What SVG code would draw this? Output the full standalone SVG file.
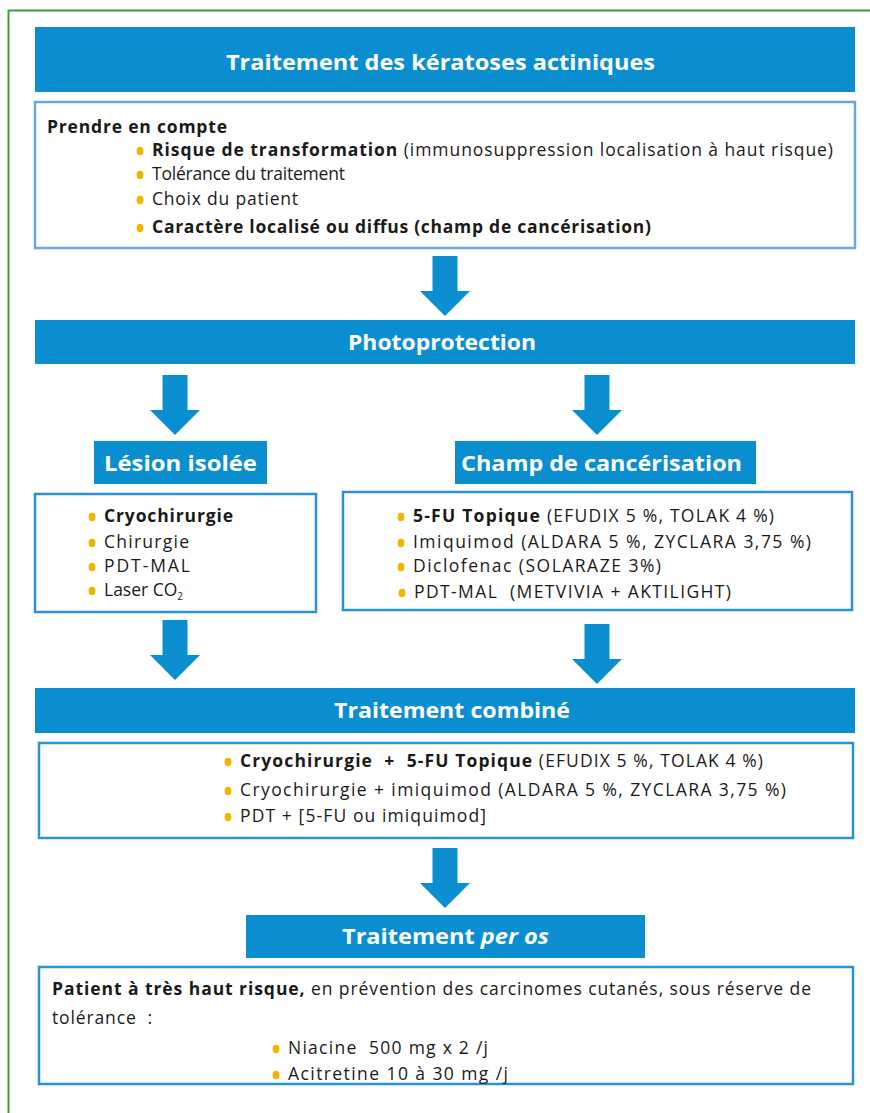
<svg xmlns="http://www.w3.org/2000/svg" width="870" height="1113" viewBox="0 0 870 1113">
<style>
.bar{fill:#0a8ecf}
.box{fill:#fff;stroke:#2b93d3;stroke-width:2.5}
.box0{fill:#fff;stroke:#6aa6dc;stroke-width:2.5}
.hd{font-family:"Open Sans","DejaVu Sans",sans-serif;font-weight:bold;font-size:22px;fill:#fff;text-anchor:middle}
.t{font-family:"Open Sans","DejaVu Sans",sans-serif;font-size:17.5px;fill:#1a1a1a;white-space:pre}
.b{font-weight:bold}
.dot{fill:#f5b400}
.arr{fill:#0a8ecf}
</style>
<defs>
<polygon id="arrow" points="-12.5,0 12.5,0 12.5,35 25,35 0,60 -25,35 -12.5,35"/>
<ellipse id="d" rx="3.4" ry="4.2"/>
</defs>
<rect width="870" height="1113" fill="#fff"/>
<path d="M8.5,1113 V10.5 H870" fill="none" stroke="#3a9b3f" stroke-width="2"/>

<g id="connectors">
<use href="#arrow" class="arr" x="445" y="256"/>
<use href="#arrow" class="arr" x="175" y="375"/>
<use href="#arrow" class="arr" x="597" y="375"/>
<use href="#arrow" class="arr" x="175" y="620"/>
<use href="#arrow" class="arr" x="597" y="624"/>
<use href="#arrow" class="arr" x="445" y="848"/>
</g>

<g id="title">
<rect class="bar" x="35" y="27" width="820" height="65"/>
<text class="hd" x="440.5" y="70" textLength="429" lengthAdjust="spacingAndGlyphs">Traitement des kératoses actiniques</text>
</g>

<g id="prendre">
<rect class="box0" x="35" y="102" width="820" height="146"/>
<text class="t b" x="47" y="133" textLength="180">Prendre en compte</text>
<use href="#d" class="dot" x="140" y="151"/>
<text class="t" x="152" y="156" textLength="681"><tspan class="b">Risque de transformation</tspan> (immunosuppression localisation à haut risque)</text>
<use href="#d" class="dot" x="140" y="175"/>
<text class="t" x="152" y="180" textLength="193">Tolérance du traitement</text>
<use href="#d" class="dot" x="140" y="200"/>
<text class="t" x="152" y="205" textLength="146">Choix du patient</text>
<use href="#d" class="dot" x="140" y="228"/>
<text class="t b" x="152" y="233" textLength="499">Caractère localisé ou diffus (champ de cancérisation)</text>
</g>

<g id="photoprotection">
<rect class="bar" x="35" y="320" width="820" height="44"/>
<text class="hd" x="442" y="350" textLength="188" lengthAdjust="spacingAndGlyphs">Photoprotection</text>
</g>

<g id="lesion">
<rect class="bar" x="94" y="441" width="173" height="43"/>
<text class="hd" x="180.5" y="471" textLength="153" lengthAdjust="spacingAndGlyphs">Lésion isolée</text>
</g>

<g id="champ">
<rect class="bar" x="455" y="441" width="301" height="43"/>
<text class="hd" x="601.5" y="471" textLength="281" lengthAdjust="spacingAndGlyphs">Champ de cancérisation</text>
</g>

<g id="lesion-list">
<rect class="box" x="35" y="494" width="281" height="118"/>
<use href="#d" class="dot" x="92" y="517"/>
<text class="t b" x="104" y="522" textLength="129">Cryochirurgie</text>
<use href="#d" class="dot" x="92" y="543"/>
<text class="t" x="104" y="548" textLength="85">Chirurgie</text>
<use href="#d" class="dot" x="92" y="567"/>
<text class="t" x="104" y="572" textLength="86">PDT-MAL</text>
<use href="#d" class="dot" x="92" y="591"/>
<text class="t" x="104" y="596">Laser CO<tspan font-size="10" dy="4">2</tspan></text>
</g>

<g id="champ-list">
<rect class="box" x="343" y="492" width="509" height="118"/>
<use href="#d" class="dot" x="401" y="517"/>
<text class="t" x="413" y="522" textLength="361"><tspan class="b">5-FU Topique</tspan> (EFUDIX 5 %, TOLAK 4 %)</text>
<use href="#d" class="dot" x="401" y="543"/>
<text class="t" x="413" y="548" textLength="398">Imiquimod (ALDARA 5 %, ZYCLARA 3,75 %)</text>
<use href="#d" class="dot" x="401" y="567"/>
<text class="t" x="413" y="572" textLength="248">Diclofenac (SOLARAZE 3%)</text>
<use href="#d" class="dot" x="402" y="593"/>
<text class="t" x="414" y="598" textLength="317">PDT-MAL  (METVIVIA + AKTILIGHT)</text>
</g>

<g id="combine">
<rect class="bar" x="35" y="688" width="820" height="45"/>
<text class="hd" x="452" y="718" textLength="236" lengthAdjust="spacingAndGlyphs">Traitement combiné</text>
</g>

<g id="combine-list">
<rect class="box" x="39" y="743" width="814" height="95"/>
<use href="#d" class="dot" x="228" y="762"/>
<text class="t" x="240" y="767" textLength="523"><tspan class="b">Cryochirurgie  +  5-FU Topique</tspan> (EFUDIX 5 %, TOLAK 4 %)</text>
<use href="#d" class="dot" x="228" y="791"/>
<text class="t" x="240" y="796" textLength="546">Cryochirurgie + imiquimod (ALDARA 5 %, ZYCLARA 3,75 %)</text>
<use href="#d" class="dot" x="228" y="817"/>
<text class="t" x="240" y="822" textLength="246">PDT + [5-FU ou imiquimod]</text>
</g>

<g id="peros">
<rect class="bar" x="246" y="915" width="399" height="43"/>
<text class="hd" x="445.5" y="944" textLength="207" lengthAdjust="spacingAndGlyphs">Traitement <tspan font-style="italic">per os</tspan></text>
</g>

<g id="patient">
<rect class="box" x="39" y="967" width="814" height="117"/>
<text class="t" x="52" y="995" textLength="759"><tspan class="b">Patient à très haut risque,</tspan> en prévention des carcinomes cutanés, sous réserve de</text>
<text class="t" x="52" y="1024" textLength="100">tolérance  :</text>
<use href="#d" class="dot" x="276" y="1049"/>
<text class="t" x="288" y="1054" textLength="200">Niacine  500 mg x 2 /j</text>
<use href="#d" class="dot" x="276" y="1075"/>
<text class="t" x="288" y="1080" textLength="220">Acitretine 10 à 30 mg /j</text>
</g>
</svg>
